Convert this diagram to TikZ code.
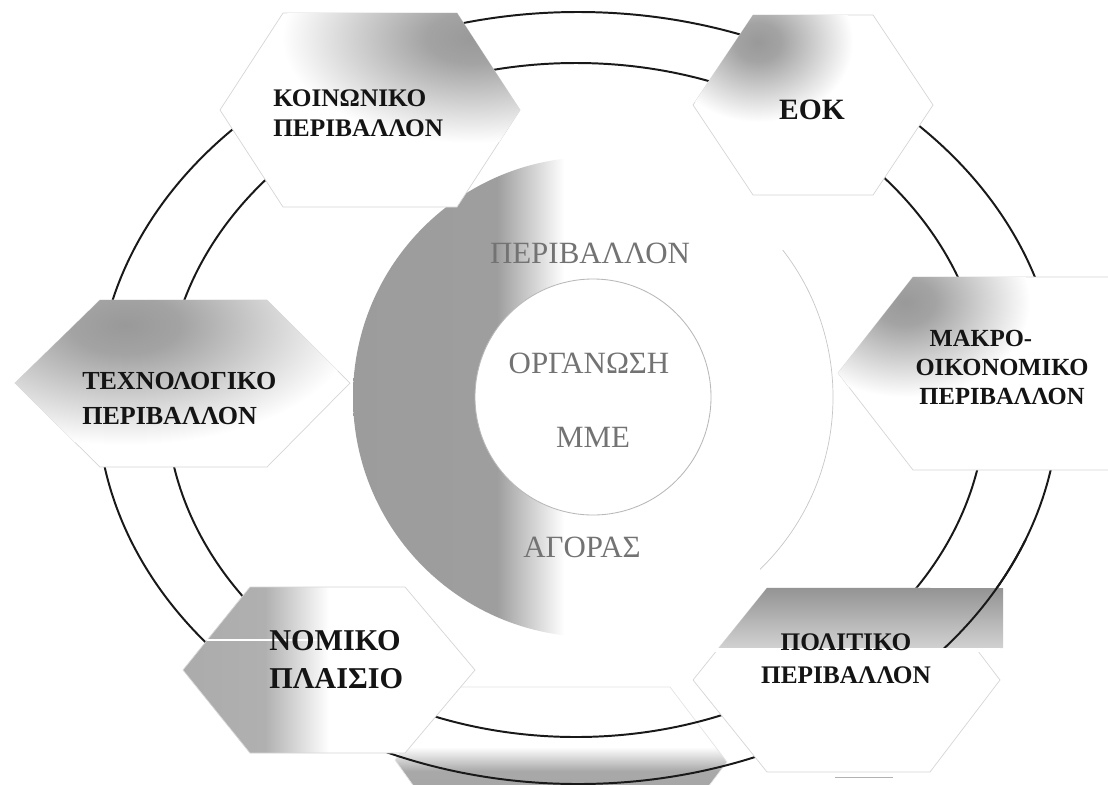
\documentclass[tikz,border=0pt]{standalone}
\usepackage{fontspec}
\setmainfont{Liberation Serif}
\pgfdeclareradialshading{spot}{\pgfpoint{0bp}{0bp}}{color(0bp)=(black!40); color(6bp)=(black!36); color(25bp)=(white); color(50bp)=(white)}
\pgfdeclarehorizontalshading{nomfade}{100bp}{color(0bp)=(black!36); color(39bp)=(black!31); color(50bp)=(white); color(100bp)=(white)}
\pgfdeclareverticalshading{botfade}{100bp}{color(0bp)=(black!40); color(47bp)=(black!34); color(55bp)=(white); color(100bp)=(white)}
\pgfdeclarehorizontalshading{discshade}{100bp}{color(0bp)=(black!40); color(40bp)=(black!38); color(47bp)=(white); color(100bp)=(white)}
\begin{document}
\begin{tikzpicture}[x=0.025cm,y=-0.025cm,
  ring/.style={line width=1.4pt, draw=black!90},
  hexline/.style={draw=black!16, line width=0.5pt},
  outlbl/.style={inner sep=0pt, text=black!92},
  inlbl/.style={inner sep=0pt, text=black!55, font=\fontsize{22}{24}\selectfont}]
\useasboundingbox (0,0) rectangle (1108,784);
\clip (0,0) rectangle (1108,784);
\fill[white] (0,0) rectangle (1108,784);

% bottom shape (cut by the page edge)
\path[shading=botfade, draw=black!10, line width=0.5pt] (395,760) -- (450,687) -- (670,687) -- (727,762) -- (670,837) -- (450,837) -- cycle;

% central disc and inner circle
\path[shading=discshade] (593,397) circle[radius=240];
\begin{scope}
  \clip (760,250) rectangle (900,600);
  \draw[black!22, line width=0.5pt] (593,397) circle[radius=240];
\end{scope}
\draw[black!28, line width=0.6pt, fill=white] (593,397) circle[radius=118];

% the two elliptic rings
\draw[ring] (578,398) ellipse[x radius=481, y radius=386];
\draw[ring] (576,400) ellipse[x radius=410, y radius=337];

% hexagonal boxes
% social
\path[fill=white, hexline] (220,110) -- (283,13) -- (457,13) -- (520,110) -- (457,207) -- (283,207) -- cycle;
\begin{scope}
  \clip (220,110) -- (283,13) -- (457,13) -- (520,110) -- (457,207) -- (283,207) -- cycle;
  \path[shading=spot] (472,38) ellipse[x radius=190, y radius=105];
\end{scope}
% EOK
\path[fill=white, hexline] (693,105) -- (753,15) -- (873,15) -- (933,105) -- (873,195) -- (753,195) -- cycle;
\begin{scope}
  \clip (693,105) -- (753,15) -- (873,15) -- (933,105) -- (873,195) -- (753,195) -- cycle;
  \path[shading=spot] (758,42) ellipse[x radius=95, y radius=80];
\end{scope}
% technological
\path[fill=white, hexline] (15,383) -- (100,300) -- (267,300) -- (350,383) -- (267,467) -- (100,467) -- cycle;
\begin{scope}
  \clip (15,383) -- (100,300) -- (267,300) -- (350,383) -- (267,467) -- (100,467) -- cycle;
  \path[shading=spot] (125,325) ellipse[x radius=230, y radius=120];
\end{scope}
% macro-economic
\path[fill=white, hexline] (838,373) -- (913,277) -- (1175,277) -- (1250,373) -- (1175,470) -- (913,470) -- cycle;
\begin{scope}
  \clip (838,373) -- (913,277) -- (1175,277) -- (1250,373) -- (1175,470) -- (913,470) -- cycle;
  \path[shading=spot] (905,302) ellipse[x radius=125, y radius=95];
\end{scope}
% legal
\path[shading=nomfade, hexline] (183,670) -- (250,587) -- (405,587) -- (475,670) -- (405,753) -- (250,753) -- cycle;
\draw[white, line width=2pt] (207,640) -- (340,640);
% political
\path[fill=white, hexline] (693,680) -- (767,588) -- (930,588) -- (1000,680) -- (930,772) -- (767,772) -- cycle;
\path[top color=black!42, bottom color=black!18] (767,588) -- (1003,588) -- (1003,648) -- (719,648) -- cycle;
\begin{scope}
  \clip (940,540) rectangle (1108,648);
  \draw[ring] (578,398) ellipse[x radius=481, y radius=386];
\end{scope}
\draw[white, line width=2.5pt] (714,650) -- (1000,650);
\draw[black!30, line width=0.6pt] (835,777) -- (893,777);

% labels
\node[outlbl, anchor=west, align=left, font=\bfseries\fontsize{18}{21.3}\selectfont] (koin) at (273,113.5) {ΚΟΙΝΩΝΙΚΟ\\ΠΕΡΙΒΑΛΛΟΝ};
\node[outlbl, font=\bfseries\fontsize{21}{24}\selectfont] (eok) at (812,110) {ΕΟΚ};
\node[outlbl, anchor=west, align=left, font=\bfseries\fontsize{18.5}{24.9}\selectfont] (tech) at (82,398.5) {ΤΕΧΝΟΛΟΓΙΚΟ\\ΠΕΡΙΒΑΛΛΟΝ};
\node[outlbl, align=center, font=\bfseries\fontsize{17.5}{20.6}\selectfont] (makro) at (1002,367.5) {ΜΑΚΡΟ-\rule{30pt}{0pt}\\ΟΙΚΟΝΟΜΙΚΟ\\ΠΕΡΙΒΑΛΛΟΝ};
\node[outlbl, anchor=west, align=left, font=\bfseries\fontsize{21.5}{27}\selectfont] (nomiko) at (269,659.5) {ΝΟΜΙΚΟ\\ΠΛΑΙΣΙΟ};
\node[outlbl, align=center, font=\bfseries\fontsize{18}{23.5}\selectfont] (polit) at (846,659) {ΠΟΛΙΤΙΚΟ\\ΠΕΡΙΒΑΛΛΟΝ};

\node[inlbl] (periv) at (590,253) {ΠΕΡΙΒΑΛΛΟΝ};
\node[inlbl] (org) at (589,363) {ΟΡΓΑΝΩΣΗ};
\node[inlbl] (mme) at (593,437) {ΜΜΕ};
\node[inlbl] (agor) at (582,547) {ΑΓΟΡΑΣ};
\end{tikzpicture}
\end{document}
